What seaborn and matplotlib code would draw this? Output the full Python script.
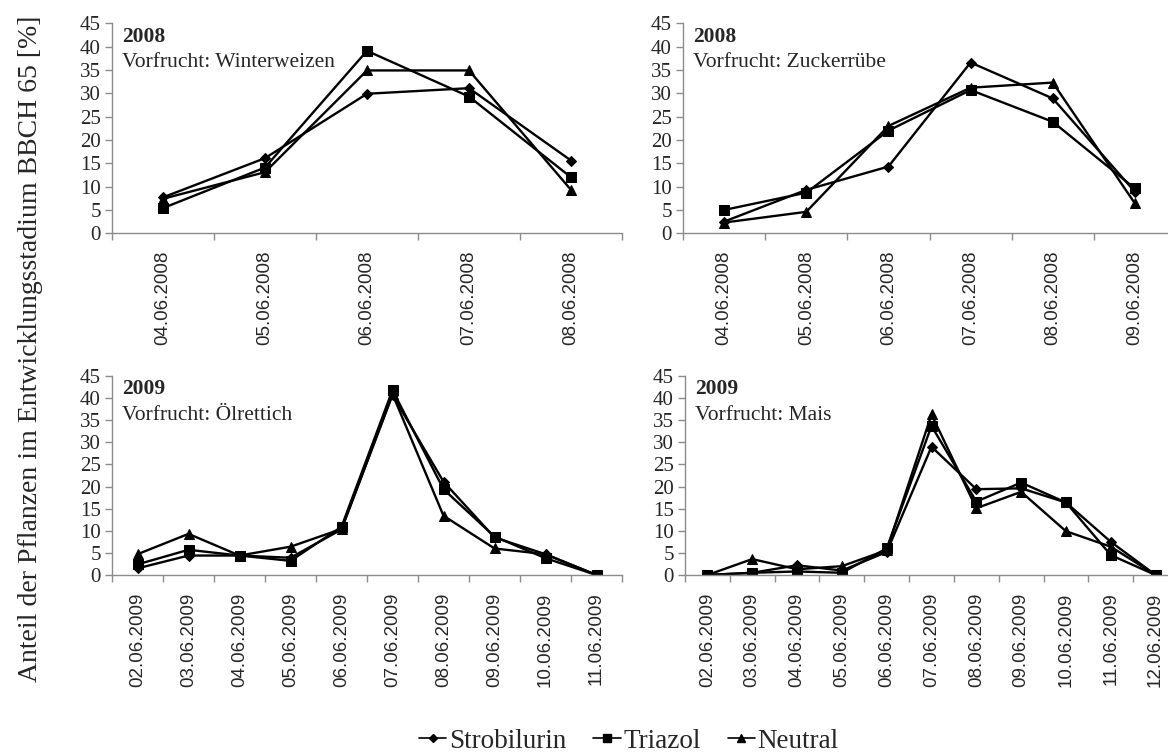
import numpy as np
import pandas as pd
import matplotlib
matplotlib.use("Agg")
import matplotlib.pyplot as plt
from matplotlib.lines import Line2D
import seaborn as sns

# --- data: share of plants at BBCH 65 [%] per sampling date ---
series_names = ["Strobilurin", "Triazol", "Neutral"]

dates_ww08 = ["04.06.2008", "05.06.2008", "06.06.2008", "07.06.2008", "08.06.2008"]
strob_ww08 = [7.7, 16.1, 29.9, 31.1, 15.6]
triaz_ww08 = [5.4, 14.1, 39.1, 29.3, 12.0]
neutr_ww08 = [7.4, 13.1, 34.9, 34.9, 9.3]

dates_zr08 = ["04.06.2008", "05.06.2008", "06.06.2008", "07.06.2008", "08.06.2008", "09.06.2008"]
strob_zr08 = [2.5, 9.3, 14.3, 36.6, 28.9, 8.9]
triaz_zr08 = [5.0, 8.7, 22.0, 30.7, 23.9, 9.6]
neutr_zr08 = [2.3, 4.6, 23.0, 31.2, 32.3, 6.4]

dates_or09 = ["02.06.2009", "03.06.2009", "04.06.2009", "05.06.2009", "06.06.2009",
              "07.06.2009", "08.06.2009", "09.06.2009", "10.06.2009", "11.06.2009"]
strob_or09 = [1.5, 4.4, 4.4, 3.9, 10.3, 40.7, 21.1, 8.5, 4.7, 0.0]
triaz_or09 = [2.4, 5.7, 4.4, 3.2, 10.9, 41.8, 19.4, 8.7, 3.8, 0.0]
neutr_or09 = [4.7, 9.3, 4.4, 6.4, 10.4, 40.9, 13.4, 6.0, 4.7, 0.0]

dates_ma09 = ["02.06.2009", "03.06.2009", "04.06.2009", "05.06.2009", "06.06.2009", "07.06.2009",
              "08.06.2009", "09.06.2009", "10.06.2009", "11.06.2009", "12.06.2009"]
strob_ma09 = [0.0, 0.5, 2.2, 1.0, 5.2, 29.0, 19.4, 19.6, 16.4, 7.5, 0.0]
triaz_ma09 = [0.0, 0.5, 0.8, 0.5, 6.0, 33.7, 16.6, 20.9, 16.4, 4.5, 0.0]
neutr_ma09 = [0.0, 3.6, 1.3, 2.0, 5.6, 36.3, 15.1, 18.8, 9.9, 6.4, 0.0]

panels = [
    ("2008", "Vorfrucht: Winterweizen", dates_ww08, [strob_ww08, triaz_ww08, neutr_ww08]),
    ("2008", "Vorfrucht: Zuckerrübe", dates_zr08, [strob_zr08, triaz_zr08, neutr_zr08]),
    ("2009", "Vorfrucht: Ölrettich", dates_or09, [strob_or09, triaz_or09, neutr_or09]),
    ("2009", "Vorfrucht: Mais", dates_ma09, [strob_ma09, triaz_ma09, neutr_ma09]),
]

y_ticks = [0, 5, 10, 15, 20, 25, 30, 35, 40, 45]
y_label = "Anteil der Pflanzen im Entwicklungsstadium BBCH 65 [%]"

# --- styling ---
sns.set_theme(style="white")
plt.rcParams["font.family"] = ["Liberation Serif", "DejaVu Serif"]

marker_map = {"Strobilurin": "D", "Triazol": "s", "Neutral": "^"}
size_map = {"Strobilurin": 5, "Triazol": 7, "Neutral": 7.5}
axis_grey = "#8c8c8c"

W, H = 1168, 755
fig = plt.figure(figsize=(W / 100, H / 100), dpi=100)

# axes boxes in pixel coordinates: left, top, right, bottom
boxes = [
    (112, 23.3, 622, 233.3),
    (683, 23.3, 1176, 233.3),
    (112, 376, 622, 575),
    (685, 376, 1178, 575),
]

for (year, crop, dates, values), (l, t, r, b) in zip(panels, boxes):
    ax = fig.add_axes([l / W, 1 - b / H, (r - l) / W, (b - t) / H])
    pos = np.arange(len(dates))
    df = pd.DataFrame({
        "pos": np.tile(pos, len(series_names)),
        "Anteil": np.concatenate(values),
        "Variante": np.repeat(series_names, len(dates)),
    })
    for name in series_names:
        sub = df[df["Variante"] == name]
        sns.lineplot(data=sub, x="pos", y="Anteil", ax=ax, color="black",
                     marker=marker_map[name], markersize=size_map[name],
                     markeredgecolor="black", markerfacecolor="black",
                     linewidth=1.7, sort=False, legend=False, errorbar=None)

    n = len(dates)
    ax.set_xlim(-0.5, n - 0.5)
    ax.set_ylim(0, 45)
    ax.set_yticks(y_ticks)
    ax.set_xticks(pos)
    ax.set_xticklabels(dates, rotation=90, family=["Liberation Sans"], fontsize=13.5)
    ax.set_xticks(np.arange(-0.5, n, 1), minor=True)
    ax.tick_params(axis="x", which="major", length=0, pad=12.6)
    ax.tick_params(axis="x", which="minor", length=5, width=1, color=axis_grey,
                   direction="out", bottom=True)
    ax.tick_params(axis="y", length=5, width=1, color=axis_grey, direction="out",
                   left=True, labelsize=15, pad=3)
    ax.set_xlabel("")
    ax.set_ylabel("")
    for side in ("top", "right"):
        ax.spines[side].set_visible(False)
    for side in ("left", "bottom"):
        ax.spines[side].set_color(axis_grey)
        ax.spines[side].set_linewidth(1)
    ax.patch.set_alpha(0)

    ax.annotate(year, xy=(0, 1), xycoords="axes fraction", xytext=(7.5, -13.2),
                textcoords="offset points", ha="left", va="baseline",
                fontsize=15.5, fontweight="bold")
    ax.annotate(crop, xy=(0, 1), xycoords="axes fraction", xytext=(7.5, -31.5),
                textcoords="offset points", ha="left", va="baseline", fontsize=15.5)

fig.text(31 / W, 1 - 349 / H, y_label, rotation=90, ha="center", va="center",
         fontsize=20)

handles = [Line2D([], [], color="black", linewidth=1.2, marker=marker_map[nm],
                  markersize=size_map[nm] * 0.85, markerfacecolor="black",
                  markeredgecolor="black") for nm in series_names]
fig.legend(handles, series_names, loc="center", bbox_to_anchor=(629 / W, 1 - 741 / H),
           ncol=3, frameon=False, fontsize=19.5, handlelength=1.0,
           handletextpad=0.1, columnspacing=1.0, borderpad=0.2)

fig.savefig("out.png", dpi=100)
